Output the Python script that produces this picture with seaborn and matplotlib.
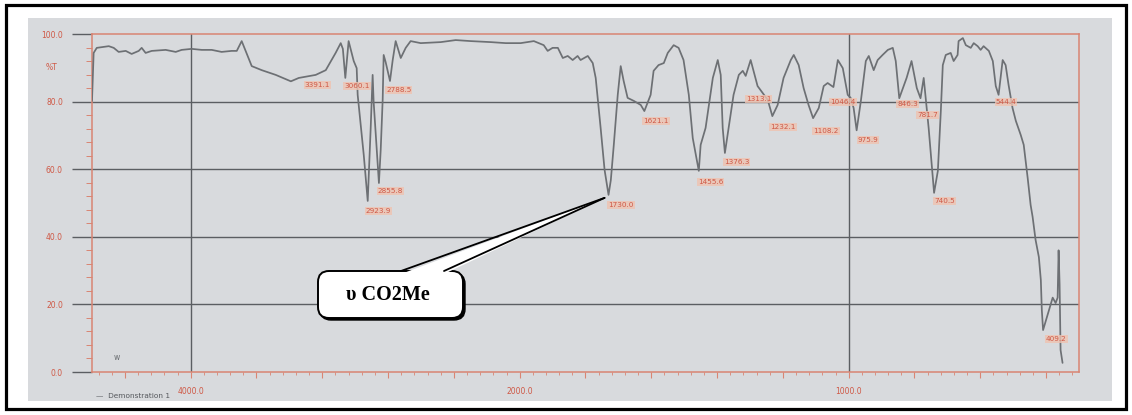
import numpy as np
import matplotlib
matplotlib.use("Agg")
import matplotlib.pyplot as plt
import seaborn as sns
from matplotlib.patches import Rectangle, FancyBboxPatch, Polygon
from matplotlib.lines import Line2D
from matplotlib.ticker import FixedLocator, FuncFormatter

# ---- spectrum (cm-1, %T) ----
wavenumber = [
    4600, 4590, 4571, 4498, 4468, 4438, 4395, 4359, 4316, 4298, 4274, 4237,
    4152, 4091, 4055, 3994, 3933, 3872, 3812, 3751, 3720, 3690, 3666, 3629,
    3568, 3483, 3391.1, 3343, 3240, 3179, 3119, 3088, 3075, 3060.1, 3040,
    3009, 2991, 2985, 2948, 2923.9, 2906, 2894, 2888, 2869, 2855.8, 2845,
    2833, 2827, 2815, 2788.5, 2772, 2754, 2723, 2693, 2663, 2602, 2480, 2389,
    2298, 2176, 2085, 1997, 1957, 1927, 1915, 1900, 1884, 1869, 1854, 1839,
    1824, 1815, 1793, 1778, 1769, 1754, 1742, 1730.0, 1723, 1714, 1702, 1693,
    1684, 1672, 1653, 1632, 1621.1, 1602, 1593, 1578, 1562, 1550, 1532, 1517,
    1502, 1486, 1474, 1455.6, 1450, 1435, 1413, 1398, 1389, 1383, 1376.3,
    1365, 1350, 1334, 1322, 1313.1, 1298, 1277, 1261, 1246, 1232.1, 1216,
    1198, 1176, 1167, 1152, 1137, 1122, 1108.2, 1091, 1076, 1064, 1046.4,
    1033, 1018, 1003, 994, 985, 975.9, 963, 948, 939, 924, 912, 897, 881,
    866, 857, 846.3, 824, 809, 793, 781.7, 772, 767, 757, 745, 740.5, 729,
    720, 714, 705, 690, 681, 669, 666, 653, 644, 629, 620, 608, 599, 590,
    574, 562, 553, 544.4, 532, 523, 514, 502, 492, 477, 468, 456, 447, 441,
    432, 422, 416, 413, 409.2, 380, 371, 365, 362, 359, 356, 350,
]
transmittance = [
    80.2, 94.4, 95.9, 96.4, 95.9, 94.7, 95.0, 94.1, 95.0, 95.9, 94.4, 95.0,
    95.3, 94.7, 95.3, 95.6, 95.3, 95.3, 94.7, 95.0, 95.0, 97.9, 95.0, 90.5,
    89.3, 87.9, 86.0, 87.0, 87.9, 89.3, 94.4, 97.3, 95.6, 87.0, 97.9,
    92.0, 89.9, 82.0, 64.2, 50.6, 72.0, 87.9, 80.0, 65.7, 55.9, 65.7,
    80.5, 93.8, 91.7, 86.1, 92.3, 97.9, 92.9, 95.9, 97.9, 97.3, 97.6, 98.2,
    97.9, 97.6, 97.3, 97.3, 97.9, 96.7, 95.0, 95.9, 95.9, 92.9, 93.5, 92.3,
    93.5, 92.3, 93.5, 91.4, 87.0, 72.2, 59.8, 52.4, 56.8, 67.2, 82.0, 90.5,
    86.1, 81.1, 80.2, 79.0, 77.2, 82.0, 89.1, 90.8, 91.4, 94.4, 96.7, 95.9,
    92.3, 82.0, 69.2, 59.5, 67.2, 72.2, 87.0, 92.3, 87.9, 72.2, 64.8,
    72.2, 82.0, 87.9, 89.1, 87.6, 92.3, 84.6, 82.5, 80.5, 75.7, 79.0,
    87.0, 92.3, 93.8, 90.8, 84.0, 79.0, 75.1, 78.1, 84.6, 85.5, 84.3,
    92.3, 89.9, 82.0, 81.1, 78.1, 71.5, 80.2, 92.0, 93.5, 89.3, 92.3, 93.8, 95.3,
    95.9, 92.0, 81.0, 87.0, 92.0, 84.0, 81.0, 87.0, 82.0, 72.2, 58.3, 53.0, 59.5,
    77.2, 90.8, 93.8, 94.4, 92.0, 93.8, 97.9, 98.8, 96.7, 95.9, 97.3, 96.4, 95.3, 96.4,
    95.0, 92.0, 84.6, 82.0, 92.3, 90.8, 84.9, 78.1, 74.3, 70.1, 67.2, 57.4, 49.4, 45.9,
    39.1, 34.0, 27.2, 18.3, 12.4, 22.0, 20.4, 22.0, 36.0, 26.0, 6.5, 2.7,
]

peak_labels = ["3391.1", "3060.1", "2923.9", "2855.8", "2788.5", "1730.0",
               "1621.1", "1455.6", "1376.3", "1313.1", "1232.1", "1108.2",
               "1046.4", "975.9", "846.3", "781.7", "740.5", "544.4", "409.2"]
y_ticks = [0, 20, 40, 60, 80, 100]
x_tick_labels = ["4000.0", "2000.0", "1000.0"]
y_unit = "%T"
legend_label = "\u2014  Demonstration 1"
callout_text = "\u03c5 CO2Me"
callout_peak = "1730.0"

# label placement (pixel offsets from each minimum)
label_offsets = [(14, 4), (-1, 8), (-2, 10), (-1, 8), (-4, 9), (0, 10),
                 (-1, 10), (-1, 11), (-1, 9), (0, 23), (-2, 11), (0, 13),
                 (-3, 15), (1, 10), (-2, 6), (-3, 17), (0, 8), (-3, 7), (3, 9)]

W, H = 1132, 415
PAPER = "#d8dadd"
LINE = "#6d7074"
GRID = "#5b5e62"
FRAME = "#d98573"
TXT = "#cf5845"

sns.set_theme(style="white")
plt.rcParams["font.family"] = ["DejaVu Sans"]

fig = plt.figure(figsize=(W / 100, H / 100), dpi=100, facecolor="white")

# backdrop in pixel units: page frame and scanned sheet
bg = fig.add_axes([0, 0, 1, 1], zorder=0)
bg.set_xlim(0, W)
bg.set_ylim(H, 0)
bg.axis("off")
bg.add_patch(Rectangle((28, 18), 1084, 383, fc=PAPER, ec="none"))
bg.add_patch(Rectangle((5.5, 5.5), W - 11.5, H - 12, fill=False,
                       ec="black", lw=2.3))

ax = fig.add_axes([92 / W, 43 / H, 987 / W, 338 / H], zorder=1)
ax.set_facecolor("none")


def fwd(w):
    w = np.asarray(w, dtype=float)
    return np.where(w <= 2000, w, 2000 + (w - 2000) / 2)


def inv(u):
    u = np.asarray(u, dtype=float)
    return np.where(u <= 2000, u, 2000 + 2 * (u - 2000))


sns.lineplot(x=wavenumber, y=transmittance, ax=ax, color=LINE, linewidth=1.25,
             estimator=None, sort=False, zorder=3)
ax.set_xscale("function", functions=(fwd, inv))
ax.set_xlim(4600, 300)
ax.set_ylim(0, 100)
ax.set_xlabel("")
ax.set_ylabel("")

# chart grid
for v in (4000, 1000):
    ax.axvline(v, color=GRID, lw=1.0, zorder=1)
for h in y_ticks[1:-1]:
    ax.axhline(h, color=GRID, lw=1.0, zorder=1)

for sp in ax.spines.values():
    sp.set_color(FRAME)
    sp.set_linewidth(1.1)
    sp.set_visible(True)

# x ticks: every 200 scale units, labelled at the three marked positions
labelled = [float(s) for s in x_tick_labels]
major_x = [float(inv(u)) for u in range(400, 3201, 200)]
minor_x = [float(inv(u)) for u in range(320, 3300, 40)
           if float(inv(u)) not in major_x]
ax.xaxis.set_major_locator(FixedLocator(major_x))
ax.xaxis.set_minor_locator(FixedLocator(minor_x))
ax.xaxis.set_major_formatter(FuncFormatter(
    lambda v, p: f"{v:.1f}" if any(abs(v - l) < 1 for l in labelled) else ""))
ax.tick_params(axis="x", which="both", bottom=True, top=False)
ax.tick_params(axis="x", which="major", length=4, width=0.8, color=FRAME,
               direction="out", labelsize=5.5, labelcolor=TXT, pad=7)
ax.tick_params(axis="x", which="minor", length=2, width=0.6, color=FRAME,
               direction="out")

ax.yaxis.set_major_locator(FixedLocator(y_ticks))
ax.yaxis.set_minor_locator(FixedLocator([v for v in range(0, 101, 4) if v % 20]))
ax.yaxis.set_major_formatter(FuncFormatter(lambda v, p: f"{v:.1f}"))
ax.tick_params(axis="y", which="both", left=True, right=False)
ax.tick_params(axis="y", which="major", length=14.4, width=1.0, color=GRID,
               direction="out", labelsize=5.5, labelcolor=TXT, pad=6.5)
ax.tick_params(axis="y", which="minor", length=4, width=0.7, color=FRAME,
               direction="out")
for t in ax.yaxis.get_major_ticks():
    if t.get_loc() in (y_ticks[0], y_ticks[-1]):
        t.tick1line.set_color(FRAME)

# peak labels
wn_asc = np.array(wavenumber)[::-1]
tr_asc = np.array(transmittance)[::-1]
for s, (dx, dy) in zip(peak_labels, label_offsets):
    w = float(s)
    t = float(np.interp(w, wn_asc, tr_asc))
    ax.annotate(s, xy=(w, t), xytext=(dx, -dy), textcoords="offset pixels",
                ha="left", va="center", fontsize=5.2, color=TXT, zorder=4,
                bbox=dict(boxstyle="square,pad=0.15", fc="#efc3b1", ec="none",
                          alpha=0.8))

# overlay in pixel units for the callout and sheet annotations
fg = fig.add_axes([0, 0, 1, 1], zorder=2)
fg.set_xlim(0, W)
fg.set_ylim(H, 0)
fg.axis("off")
fg.patch.set_alpha(0)

fg.text(52, 67, y_unit, ha="center", va="center", fontsize=5.5, color=TXT)
fg.text(117, 357, "w", ha="center", va="center", fontsize=5.5, color="#6a6d71")
fg.text(96, 396, legend_label, ha="left", va="center", fontsize=5.3,
        color="#55585c")

cw = float(callout_peak)
ct = float(np.interp(cw, wn_asc, tr_asc))
tip = fg.transData.inverted().transform(ax.transData.transform((cw, ct)))
tip = (tip[0] - 4, tip[1] + 3)

fg.add_patch(FancyBboxPatch((320, 273), 145, 47,
                            boxstyle="round,pad=0,rounding_size=11",
                            fc="black", ec="black", lw=1.0, zorder=2))
fg.add_patch(FancyBboxPatch((318, 271), 145, 47,
                            boxstyle="round,pad=0,rounding_size=11",
                            fc="white", ec="black", lw=1.4, zorder=3))
fg.add_patch(Polygon([(401, 274), tip, (444, 274)], closed=True,
                     fc="white", ec="none", zorder=4))
fg.add_line(Line2D([401, tip[0]], [271, tip[1]], color="black", lw=1.3,
                   zorder=5))
fg.add_line(Line2D([444, tip[0]], [271, tip[1]], color="black", lw=1.3,
                   zorder=5))
fg.text(388, 295, callout_text, ha="center", va="center", fontsize=14.5,
        fontweight="bold", family=["Liberation Serif", "DejaVu Serif"],
        color="black", zorder=6)

fig.savefig("out.png", dpi=100, facecolor="white")
